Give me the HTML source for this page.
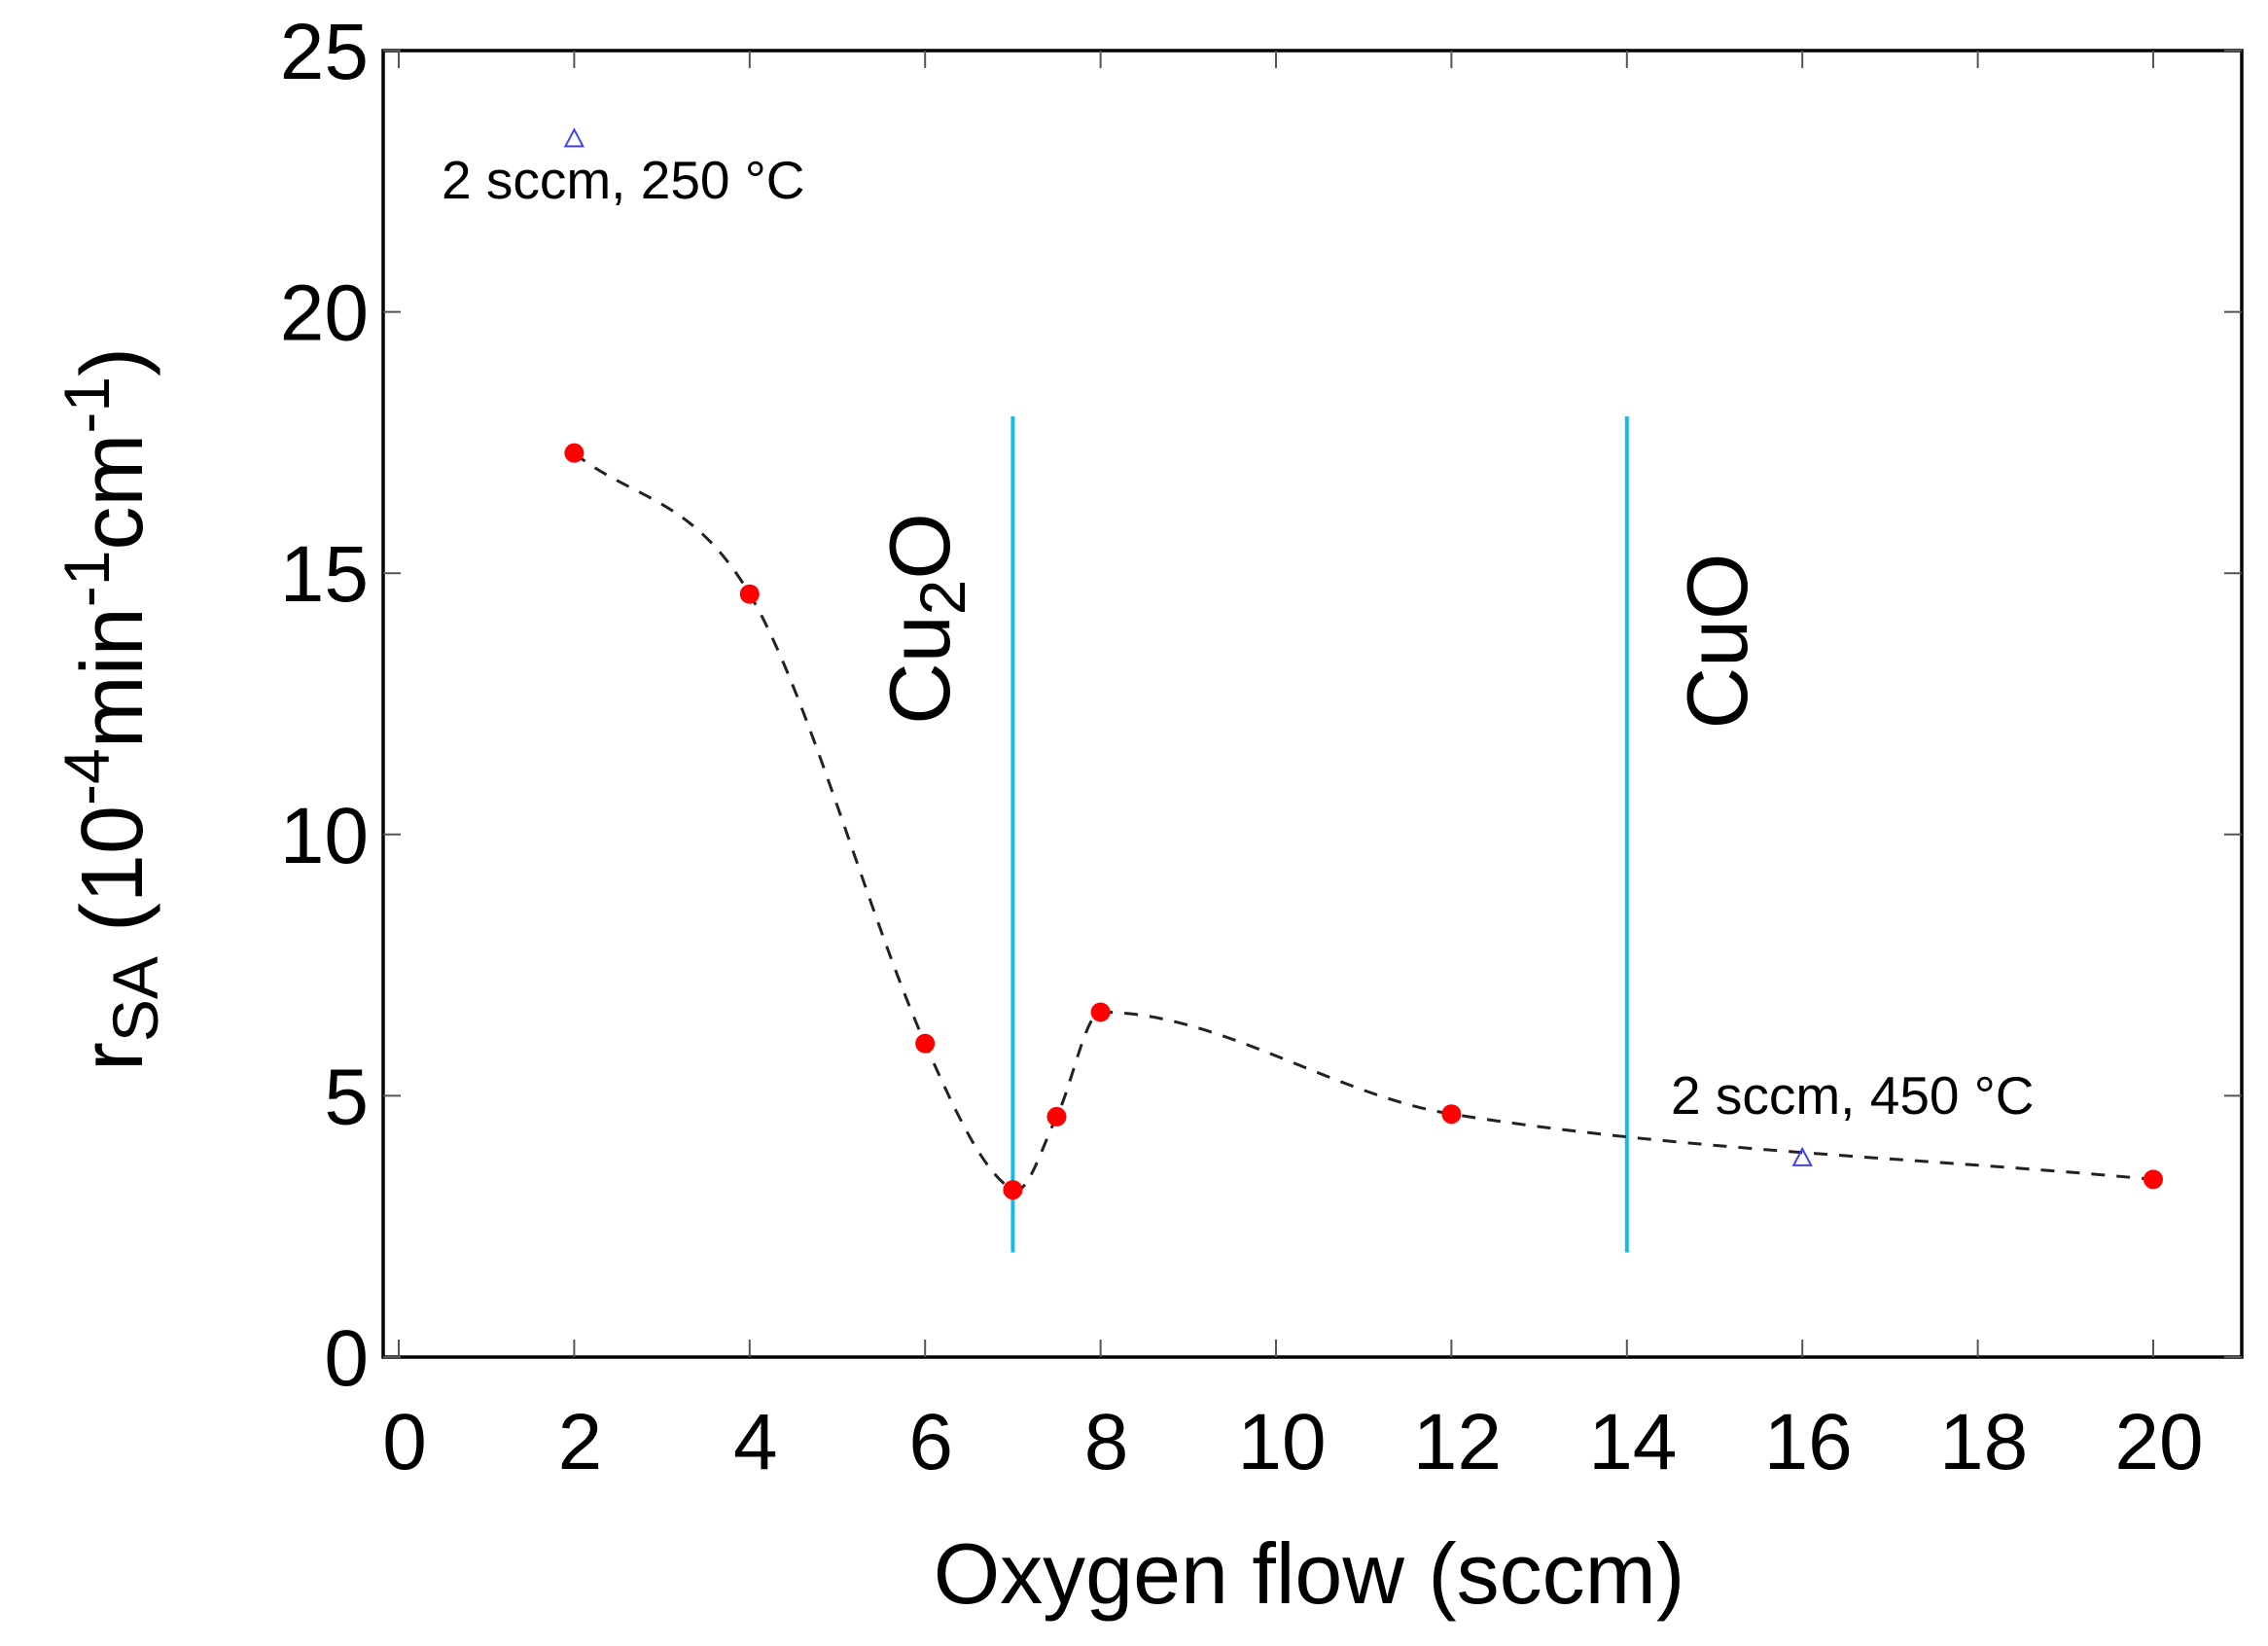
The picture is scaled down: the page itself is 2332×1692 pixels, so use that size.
<!DOCTYPE html>
<html><head><meta charset="utf-8"><style>
body{margin:0;background:#fff;}
svg{display:block;font-family:"Liberation Sans",Arial,sans-serif;}
</style></head><body>
<svg id="chart" width="2332" height="1692" viewBox="0 0 2332 1692"></svg>
<script>
const xTicks=[0,2,4,6,8,10,12,14,16,18,20];
const yTicks=[0,5,10,15,20,25];
const flowX=[2,4,6,7,7.5,8,12,20];
const rateY=[17.3,14.6,6.0,3.2,4.6,6.6,4.65,3.4];
const triX=[2,16];
const triY=[23.3,3.8];
const phaseX=[7,14];
const phaseNames=["Cu2O","CuO"];
const phaseRange=[2,18];

const L=394,R=2305,T=52,B=1395;
const X0=410,XU=90.2;
const sx=v=>X0+v*XU;
const sy=v=>B-(v/25)*(B-T);
const NS="http://www.w3.org/2000/svg";
const svg=document.getElementById('chart');
function mk(tag,attrs,parent){const e=document.createElementNS(NS,tag);for(const k in attrs)e.setAttribute(k,attrs[k]);(parent||svg).appendChild(e);return e;}

const frame=mk('rect',{x:L,y:T,width:R-L,height:B-T,fill:'none',stroke:'#000','stroke-width':3.5});



xTicks.forEach(v=>{
  const g=mk('g',{});
  
  
  mk('line',{x1:sx(v),x2:sx(v),y1:B,y2:B-18,stroke:'#555','stroke-width':2},g);
  mk('line',{x1:sx(v),x2:sx(v),y1:T,y2:T+18,stroke:'#555','stroke-width':2},g);
  const t=mk('text',{x:sx(v)+6,y:1510,'font-size':82,'text-anchor':'middle',fill:'#000'},g);
  t.textContent=v;
});
yTicks.forEach(v=>{
  const g=mk('g',{});
  
  
  mk('line',{x1:L,x2:L+18,y1:sy(v),y2:sy(v),stroke:'#555','stroke-width':2},g);
  mk('line',{x1:R,x2:R-18,y1:sy(v),y2:sy(v),stroke:'#555','stroke-width':2},g);
  const t=mk('text',{x:379,y:sy(v)+29,'font-size':82,'text-anchor':'end',fill:'#000'},g);
  t.textContent=v;
});

phaseX.forEach((v,i)=>{
  const ln=mk('line',{x1:sx(v),x2:sx(v),y1:sy(phaseRange[1]),y2:sy(phaseRange[0]),stroke:'#1ab8e8','stroke-width':4});
  
  
});
const cu2o=mk('text',{transform:'translate(976,636) rotate(-90)','font-size':88,'text-anchor':'middle',fill:'#000'});


cu2o.innerHTML='Cu<tspan font-size="66" dy="16">2</tspan><tspan dy="-16">O</tspan>';
const cuo=mk('text',{transform:'translate(1796,659) rotate(-90)','font-size':88,'text-anchor':'middle',fill:'#000'});


cuo.textContent='CuO';

// smooth dashed curve (Hermite in x with finite-difference slopes)
const n=flowX.length;
const slopes=flowX.map((x,i)=>{
  const a=Math.max(0,i-1),b=Math.min(n-1,i+1);
  return (rateY[b]-rateY[a])/(flowX[b]-flowX[a]);
});
let d='M'+sx(flowX[0])+','+sy(rateY[0]);
for(let i=0;i<n-1;i++){
  const dx=flowX[i+1]-flowX[i];
  const c1x=flowX[i]+dx/3,c1y=rateY[i]+slopes[i]*dx/3;
  const c2x=flowX[i+1]-dx/3,c2y=rateY[i+1]-slopes[i+1]*dx/3;
  d+=' C'+sx(c1x)+','+sy(c1y)+' '+sx(c2x)+','+sy(c2y)+' '+sx(flowX[i+1])+','+sy(rateY[i+1]);
}
const curve=mk('path',{d:d,fill:'none',stroke:'#222','stroke-width':3,'stroke-dasharray':'14,12'});



flowX.forEach((x,i)=>{
  const c=mk('circle',{cx:sx(x),cy:sy(rateY[i]),r:10,fill:'#f00'});
  
  
});
triX.forEach((x,i)=>{
  const cx=sx(x),cy=sy(triY[i]);
  const tr=mk('polygon',{points:`${cx},${cy-10} ${cx-9},${cy+7} ${cx+9},${cy+7}`,fill:'none',stroke:'#4040ff','stroke-width':2});
  
  
});

const a1=mk('text',{x:454,y:204,'font-size':55,fill:'#000'});


a1.textContent='2 sccm, 250 °C';
const a2=mk('text',{x:1718,y:1145,'font-size':55,fill:'#000'});


a2.textContent='2 sccm, 450 °C';

const xl=mk('text',{x:1346,y:1648,'font-size':88,'text-anchor':'middle',fill:'#000'});


xl.textContent='Oxygen flow (sccm)';
const yl=mk('text',{transform:'translate(146,729) rotate(-90)','font-size':90,'text-anchor':'middle',fill:'#000'});


yl.innerHTML='r<tspan font-size="66" dy="16">SA</tspan><tspan dy="-16"> (10</tspan><tspan font-size="66" dy="-34">-4</tspan><tspan dy="34">min</tspan><tspan font-size="66" dy="-34">-1</tspan><tspan dy="34">cm</tspan><tspan font-size="66" dy="-34">-1</tspan><tspan dy="34">)</tspan>';
</script>
</body></html>
